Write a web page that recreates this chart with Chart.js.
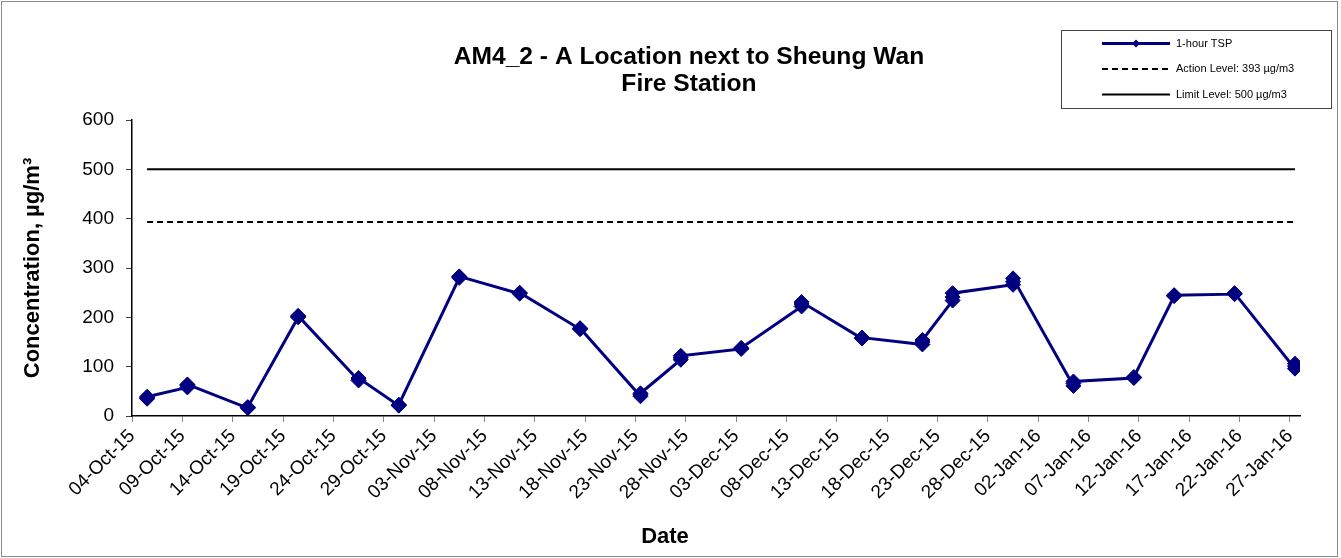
<!DOCTYPE html>
<html>
<head>
<meta charset="utf-8">
<script src="https://cdn.jsdelivr.net/npm/chart.js@4"></script>
<style>
  html, body { margin: 0; padding: 0; background: #fff; }
  canvas { display: block; }
</style>
</head>
<body>
<canvas id="chart" width="1341" height="558"></canvas>
<script>
// --- Data ---
const titleLines = ["AM4_2 - A Location next to Sheung Wan", "Fire Station"];
const axisStart = "2015-10-04";   // first tick
const axisDays = 116;             // axis runs to 28-Jan-16
const tickStep = 5;               // a tick every 5 days

const sampleDates = [
  "2015-10-05", "2015-10-09", "2015-10-15", "2015-10-20", "2015-10-26", "2015-10-30",
  "2015-11-05", "2015-11-11", "2015-11-17", "2015-11-23", "2015-11-27", "2015-12-03",
  "2015-12-09", "2015-12-15", "2015-12-21", "2015-12-24", "2015-12-30", "2016-01-05",
  "2016-01-11", "2016-01-15", "2016-01-21", "2016-01-27"
];
// three 1-hour readings per sampling day
const tspReadings = [
  [35, 37, 39], [58, 62, 64], [16, 17, 18], [200, 202, 203], [72, 75, 77], [21, 22, 23],
  [280, 282, 283], [248, 249, 250], [176, 177, 178], [40, 43, 46], [114, 118, 122], [136, 137, 138],
  [222, 227, 231], [157, 158, 159], [145, 150, 154], [234, 241, 249], [266, 272, 279], [61, 66, 70],
  [77, 78, 79], [243, 244, 245], [247, 248, 249], [96, 101, 106]
];
const actionLevel = 393;
const limitLevel = 500;

// --- Helpers ---
const FONT = "'Liberation Sans', Arial, sans-serif";
const MONTHS = ["Jan","Feb","Mar","Apr","May","Jun","Jul","Aug","Sep","Oct","Nov","Dec"];
const DAY_MS = 86400000;
const startMs = Date.parse(axisStart + "T00:00:00Z");

// Excel date axis: a day's value sits in the middle of that day
const dayPos = s => (Date.parse(s + "T00:00:00Z") - startMs) / DAY_MS + 0.5;

function fmtTick(v) {
  const d = new Date(startMs + v * DAY_MS);
  const dd = String(d.getUTCDate()).padStart(2, "0");
  const yy = String(d.getUTCFullYear()).slice(2);
  return `${dd}-${MONTHS[d.getUTCMonth()]}-${yy}`;
}

const tspPoints = [];
sampleDates.forEach((s, i) => {
  tspReadings[i].forEach(v => tspPoints.push({ x: dayPos(s), y: v }));
});
const actionPoints = sampleDates.map(s => ({ x: dayPos(s), y: actionLevel }));
const limitPoints = sampleDates.map(s => ({ x: dayPos(s), y: limitLevel }));

// --- Title, legend box, x title and frame ---
const decorPlugin = {
  id: "decor",
  afterDraw(chart) {
    const ctx = chart.ctx;
    ctx.save();

    // frame
    ctx.strokeStyle = "#8c8c8c";
    ctx.lineWidth = 1;
    ctx.strokeRect(1.5, 1.5, 1336, 555);

    // title
    ctx.fillStyle = "#000";
    ctx.font = "bold 24.6px " + FONT;
    ctx.textAlign = "center";
    ctx.textBaseline = "middle";
    titleLines.forEach((t, i) => ctx.fillText(t, 689, 57 + i * 27));

    // x axis title
    ctx.font = "bold 22px " + FONT;
    ctx.fillText("Date", 665, 537);

    // legend
    ctx.strokeStyle = "#444";
    ctx.lineWidth = 1;
    ctx.strokeRect(1061.5, 30.5, 270, 78);
    ctx.font = "11px " + FONT;
    ctx.textAlign = "left";
    chart.data.datasets.forEach((ds, i) => {
      const y = 43.5 + i * 25.5;
      ctx.save();
      ctx.strokeStyle = ds.borderColor;
      ctx.lineWidth = ds.borderWidth;
      ctx.setLineDash(ds.borderDash || []);
      ctx.beginPath();
      ctx.moveTo(1102, y);
      ctx.lineTo(1170, y);
      ctx.stroke();
      ctx.restore();
      if (ds.pointRadius > 0) {
        ctx.fillStyle = ds.pointBackgroundColor;
        ctx.beginPath();
        ctx.moveTo(1136 - 4, y);
        ctx.lineTo(1136, y - 4);
        ctx.lineTo(1136 + 4, y);
        ctx.lineTo(1136, y + 4);
        ctx.closePath();
        ctx.fill();
      }
      ctx.fillStyle = "#000";
      ctx.fillText(ds.label, 1176, y);
    });

    ctx.restore();
  }
};

new Chart(document.getElementById("chart"), {
  type: "line",
  data: {
    datasets: [
      {
        label: "1-hour TSP",
        data: tspPoints,
        borderColor: "#000080",
        backgroundColor: "#000080",
        borderWidth: 3,
        pointStyle: "rectRot",
        pointRadius: 7.5,
        pointBorderWidth: 1,
        pointBackgroundColor: "#000080",
        pointBorderColor: "#000080",
        tension: 0
      },
      {
        label: "Action Level: 393 µg/m3",
        data: actionPoints,
        borderColor: "#000",
        borderWidth: 2,
        borderDash: [6, 4],
        pointRadius: 0
      },
      {
        label: "Limit Level: 500 µg/m3",
        data: limitPoints,
        borderColor: "#000",
        borderWidth: 2,
        pointRadius: 0
      }
    ]
  },
  options: {
    responsive: false,
    animation: false,
    layout: { padding: { left: 0, right: 41, top: 120, bottom: 0 } },
    plugins: {
      legend: { display: false },
      title: { display: false },
      tooltip: { enabled: false }
    },
    scales: {
      x: {
        type: "linear",
        min: 0,
        max: axisDays,
        afterFit: s => { s.height = 142; },
        grid: { drawOnChartArea: false, drawTicks: true, tickLength: 6, color: "#888" },
        border: { color: "#000", width: 1.5 },
        ticks: {
          stepSize: tickStep,
          includeBounds: false,
          autoSkip: false,
          minRotation: 45,
          maxRotation: 45,
          padding: 3,
          color: "#000",
          font: { size: 19, family: FONT },
          callback: v => fmtTick(v)
        }
      },
      y: {
        min: 0,
        max: 600,
        afterFit: s => { s.width = 132; },
        grid: { drawOnChartArea: false, drawTicks: true, tickLength: 6, color: "#444" },
        border: { color: "#000", width: 1.5 },
        ticks: {
          stepSize: 100,
          padding: 12,
          color: "#000",
          font: { size: 19, family: FONT }
        },
        title: {
          display: true,
          text: "Concentration, µg/m³",
          color: "#000",
          font: { size: 22, weight: "bold", family: FONT },
          padding: { top: 20, bottom: 0 }
        }
      }
    }
  },
  plugins: [decorPlugin]
});
</script>
</body>
</html>
